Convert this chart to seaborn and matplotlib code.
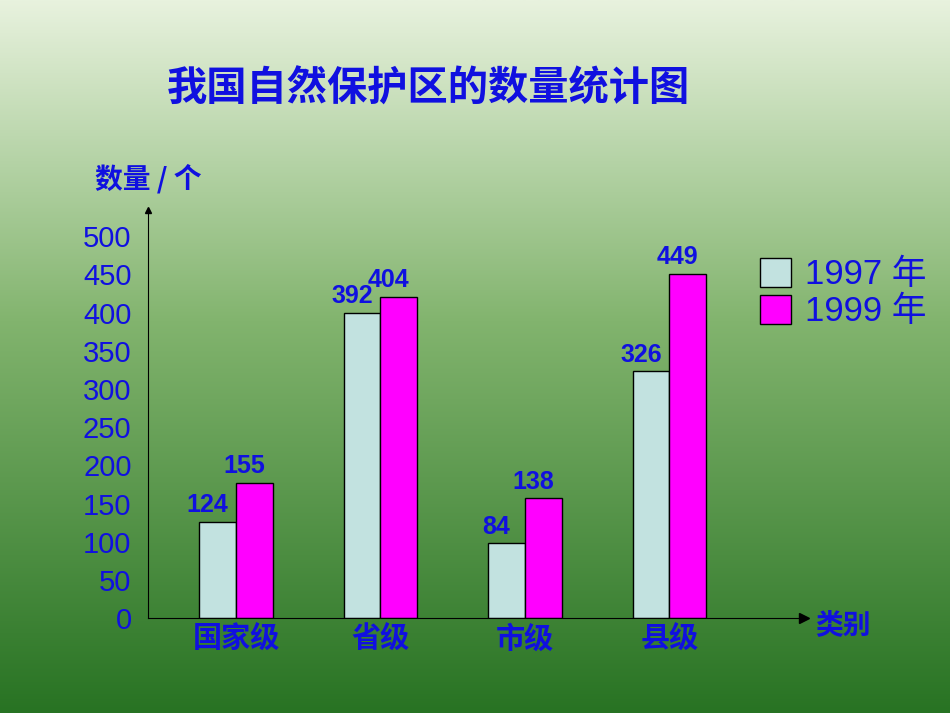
import numpy as np
import pandas as pd
import matplotlib
matplotlib.use("Agg")
import matplotlib.pyplot as plt
import seaborn as sns

categories = ["国家级", "省级", "市级", "县级"]
years = ["1997 年", "1999 年"]
heights_1997 = [126, 400, 98, 323]
heights_1999 = [177, 421, 157, 451]
labels_1997 = ["124", "392", "84", "326"]
labels_1999 = ["155", "404", "138", "449"]
yticks = [0, 50, 100, 150, 200, 250, 300, 350, 400, 450, 500]

sns.set_style("white")
plt.rcParams['font.family'] = ['Noto Sans CJK SC', 'DejaVu Sans']
num_font = ['Liberation Sans', 'Noto Sans CJK SC']
blue = "#1010e0"

fig = plt.figure(figsize=(9.5, 7.13), dpi=100)
bg = fig.add_axes([0, 0, 1, 1])
top = np.array([232, 242, 222]) / 255
mid = np.array([130, 180, 110]) / 255
bot = np.array([40, 115, 35]) / 255
cols = []
for g in np.linspace(0, 1, 256):
    if g < 0.45:
        c = top + (mid - top) * g / 0.45
    else:
        c = mid + (bot - mid) * (g - 0.45) / 0.55
    cols.append(c)
img = np.array(cols)[:, None, :]
bg.imshow(img, aspect="auto", extent=[0, 1, 0, 1], origin="upper")
bg.axis("off")

ax = fig.add_axes([0.156, 0.133, 0.69, 0.572])
ax.patch.set_alpha(0)
df = pd.DataFrame({
    "cat": categories * 2,
    "year": [years[0]] * 4 + [years[1]] * 4,
    "val": heights_1997 + heights_1999,
})
sns.barplot(data=df, x="cat", y="val", hue="year", palette=["#c2e2e0", "#ff00ff"],
            width=0.51, edgecolor="black", linewidth=1, ax=ax, saturation=1)
for cont, labs in zip(ax.containers, [labels_1997, labels_1999]):
    for bar, lab in zip(cont, labs):
        ax.text(bar.get_x() + bar.get_width() / 2 - 0.07, bar.get_height() + 6, lab,
                ha="center", va="bottom", color=blue, fontsize=18, fontweight="bold",
                family=num_font)
ax.set_xlim(-0.608, 3.93)
ax.set_ylim(0, 534)
ax.set_yticks(yticks)
ax.set_yticklabels([str(t) for t in yticks], color=blue, fontsize=21, family=num_font)
ax.tick_params(axis="y", direction="in", length=6, pad=12, color="black")
ax.set_xticks(range(4))
ax.set_xticklabels(categories, color=blue, fontsize=21, fontweight="bold")
ax.tick_params(axis="x", length=0, pad=4)
ax.set_xlabel("")
ax.set_ylabel("")
for s in ["top", "right"]:
    ax.spines[s].set_visible(False)
ax.spines["left"].set_color("black")
ax.spines["bottom"].set_color("black")
ax.plot(1, 0, ">k", transform=ax.transAxes, clip_on=False, markersize=7)
ax.plot(0, 1, "^k", transform=ax.transAxes, clip_on=False, markersize=5)
leg = ax.legend(loc="upper left", bbox_to_anchor=(0.885, 0.96), frameon=False,
                prop={'family': num_font, 'size': 25}, handlelength=0.9,
                handleheight=0.9, labelspacing=0.1, handletextpad=0.4)
for t in leg.get_texts():
    t.set_color(blue)

fig.text(0.451, 0.875, "我国自然保护区的数量统计图", color=blue, fontsize=29,
         fontweight="bold", ha="center", va="center")
fig.text(0.1, 0.75, "数量 / 个", color=blue, fontsize=20, fontweight="bold",
         ha="left", va="center")
fig.text(0.858, 0.123, "类别", color=blue, fontsize=20, fontweight="bold",
         ha="left", va="center")
fig.savefig("out.png", dpi=100)
